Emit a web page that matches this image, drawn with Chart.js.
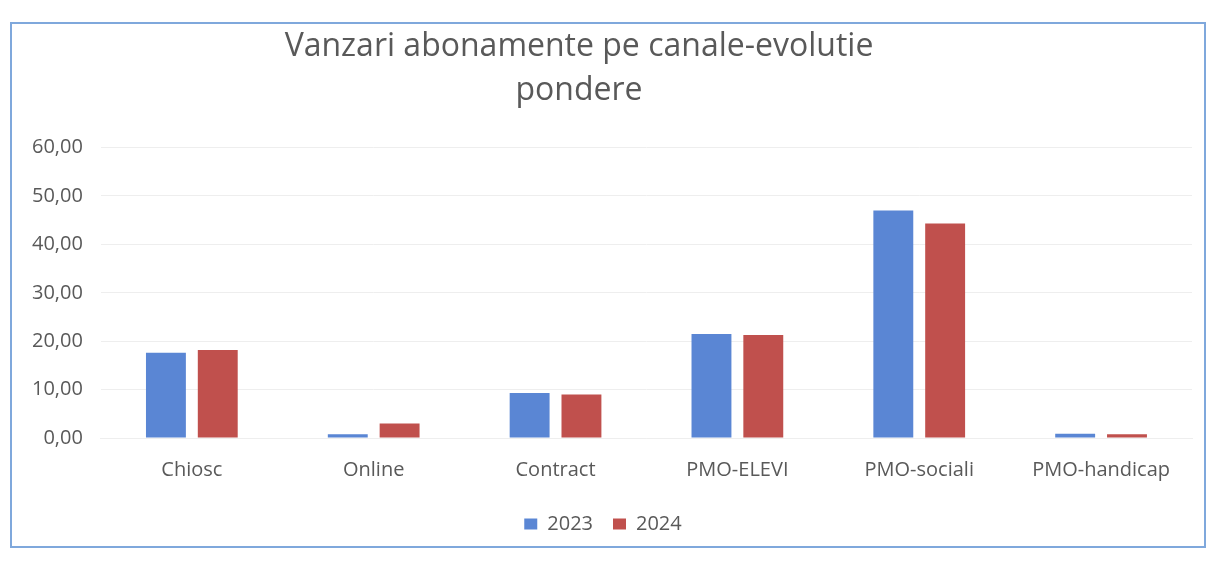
<!DOCTYPE html>
<html>
<head>
<meta charset="utf-8">
<script src="https://cdn.jsdelivr.net/npm/chart.js@4"></script>
<style>
  html, body { margin: 0; padding: 0; background: #ffffff; }
  #frame {
    position: absolute; left: 10px; top: 22px; width: 1196px; height: 526px;
    border: 2px solid #7fa8dc; box-sizing: border-box; background: #ffffff;
  }
</style>
</head>
<body>
<div id="frame"><canvas id="chart"></canvas></div>
<script>
// Categories and values (pondere, %)
const categories = ['Chiosc', 'Online', 'Contract', 'PMO-ELEVI', 'PMO-sociali', 'PMO-handicap'];
const values2023 = [17.6, 0.8, 9.3, 21.5, 47.0, 0.9];
const values2024 = [18.2, 3.0, 9.0, 21.3, 44.3, 0.8];
const yTicks = [0, 10, 20, 30, 40, 50, 60];

const textColor = '#595959';
const fontFamily = '"Open Sans", "Noto Sans", sans-serif';
// trailing en-spaces nudge the centred title a bit to the left, like in the scan
const titlePad = '\u2002'.repeat(3);

new Chart(document.getElementById('chart'), {
    type: 'bar',
    data: {
        labels: categories,
        datasets: [
            {
                label: '2023',
                data: values2023,
                backgroundColor: '#5a86d4',
                barPercentage: 0.77,
                categoryPercentage: 0.57
            },
            {
                label: '2024',
                data: values2024,
                backgroundColor: '#c0504d',
                barPercentage: 0.77,
                categoryPercentage: 0.57
            }
        ]
    },
    options: {
        responsive: true,
        maintainAspectRatio: false,
        animation: false,
        layout: { padding: { left: 2, right: 12, top: 0, bottom: 2 } },
        scales: {
            y: {
                min: 0,
                max: 60,
                afterBuildTicks: (axis) => { axis.ticks = yTicks.map(v => ({ value: v })); },
                grid: { color: '#eeeeee', lineWidth: 1, drawTicks: false },
                border: { display: false },
                ticks: {
                    color: textColor,
                    padding: 18,
                    font: { family: fontFamily, size: 20 },
                    callback: (v) => v.toFixed(2).replace('.', ',')
                }
            },
            x: {
                grid: { display: false },
                border: { color: '#eeeeee' },
                ticks: {
                    color: textColor,
                    padding: 12,
                    font: { family: fontFamily, size: 20 }
                }
            }
        },
        plugins: {
            title: {
                display: true,
                text: ['Vanzari abonamente pe canale-evolutie' + titlePad, 'pondere' + titlePad],
                color: textColor,
                font: { family: fontFamily, size: 32, weight: 'normal', lineHeight: 1.4 },
                padding: { top: 0, bottom: 34 }
            },
            legend: {
                position: 'bottom',
                labels: {
                    color: textColor,
                    boxWidth: 13,
                    boxHeight: 11,
                    padding: 20,
                    font: { family: fontFamily, size: 20 }
                }
            },
            tooltip: { enabled: false }
        }
    }
});
</script>
</body>
</html>
